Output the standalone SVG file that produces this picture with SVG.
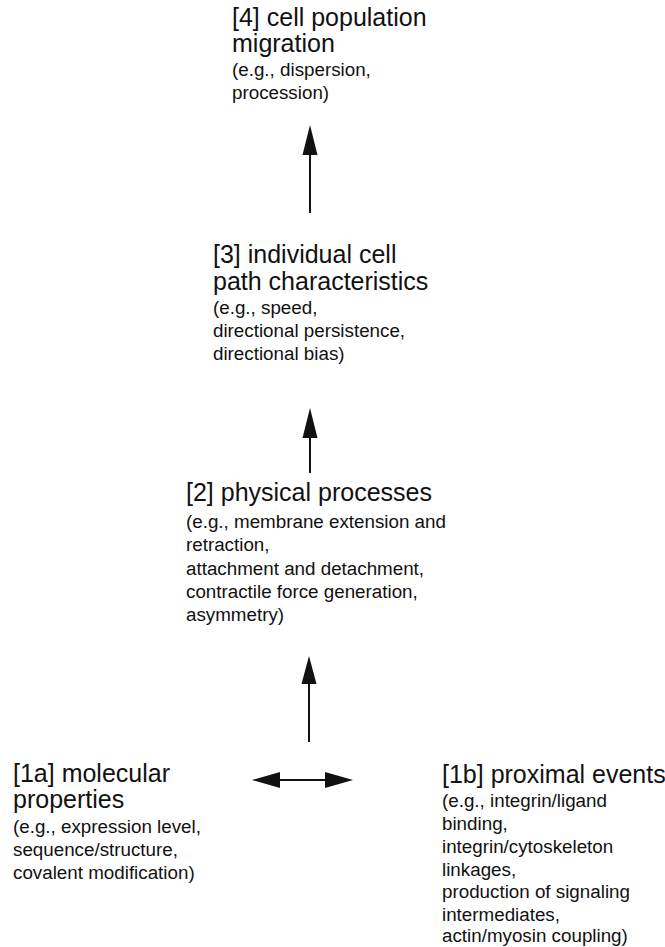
<svg xmlns="http://www.w3.org/2000/svg" width="665" height="947" viewBox="0 0 665 947">
<style>
text{font-family:"Liberation Sans",Arial,sans-serif;fill:#111}
.h{font-size:25px}
.s{font-size:18.8px}
.c{stroke:#111;stroke-width:2;fill:none}
.hd{fill:#111}
</style>
<rect width="665" height="947" fill="#fff"/>
<g id="node4">
<text class="h" x="232" y="26">[4] cell population</text>
<text class="h" x="232" y="52">migration</text>
<text class="s" x="232" y="76">(e.g., dispersion,</text>
<text class="s" x="232" y="99">procession)</text>
</g>
<g id="node3">
<text class="h" x="213" y="263">[3] individual cell</text>
<text class="h" x="213" y="290">path characteristics</text>
<text class="s" x="213" y="314">(e.g., speed,</text>
<text class="s" x="213" y="337">directional persistence,</text>
<text class="s" x="213" y="360">directional bias)</text>
</g>
<g id="node2">
<text class="h" x="186" y="501">[2] physical processes</text>
<text class="s" x="186" y="528">(e.g., membrane extension and</text>
<text class="s" x="186" y="551">retraction,</text>
<text class="s" x="186" y="575">attachment and detachment,</text>
<text class="s" x="186" y="598">contractile force generation,</text>
<text class="s" x="186" y="621">asymmetry)</text>
</g>
<g id="node1a">
<text class="h" x="13" y="782">[1a] molecular</text>
<text class="h" x="13" y="808">properties</text>
<text class="s" x="13" y="833">(e.g., expression level,</text>
<text class="s" x="13" y="856">sequence/structure,</text>
<text class="s" x="13" y="879">covalent modification)</text>
</g>
<g id="node1b">
<text class="h" x="442" y="783">[1b] proximal events</text>
<text class="s" x="442" y="807">(e.g., integrin/ligand</text>
<text class="s" x="442" y="830">binding,</text>
<text class="s" x="442" y="853">integrin/cytoskeleton</text>
<text class="s" x="442" y="876">linkages,</text>
<text class="s" x="442" y="898">production of signaling</text>
<text class="s" x="442" y="921">intermediates,</text>
<text class="s" x="442" y="942">actin/myosin coupling)</text>
</g>
<g id="connectors">
<line class="c" x1="310" y1="213" x2="310" y2="150"/>
<polygon class="hd" points="310,125 302.5,155 317.5,155"/>
<line class="c" x1="310" y1="473" x2="310" y2="433"/>
<polygon class="hd" points="310,408 302.5,438 317.5,438"/>
<line class="c" x1="309" y1="742" x2="309" y2="680"/>
<polygon class="hd" points="309,656 301.5,684 316.5,684"/>
<line class="c" x1="276" y1="780" x2="328" y2="780"/>
<polygon class="hd" points="252,780 280,772 280,788"/>
<polygon class="hd" points="353,780 325,772 325,788"/>
</g>
</svg>
